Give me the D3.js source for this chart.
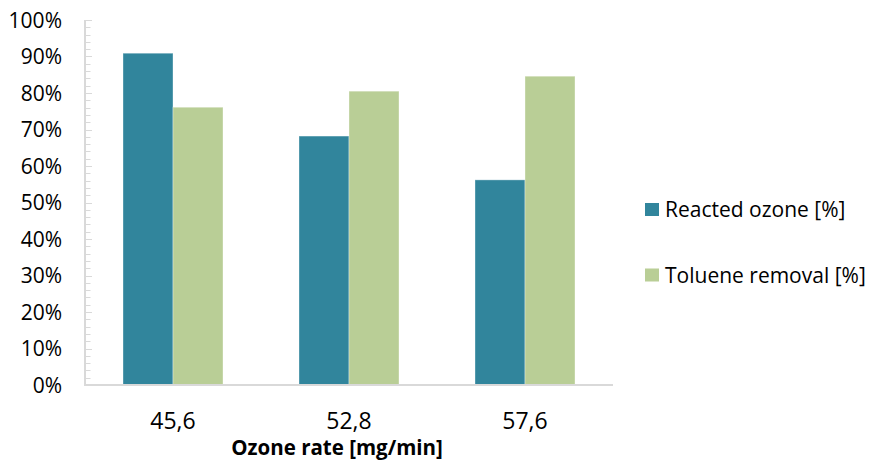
<!DOCTYPE html>
<html>
<head>
<meta charset="utf-8">
<script src="https://cdn.jsdelivr.net/npm/d3@7"></script>
<style>
html,body{margin:0;padding:0;background:#fff;}
svg{display:block;font-family:"Open Sans",sans-serif;}
</style>
</head>
<body>
<svg id="chart" width="869" height="461"></svg>
<script>
const categories = ["45,6", "52,8", "57,6"];
const seriesNames = ["Reacted ozone [%]", "Toluene removal [%]"];
const reactedOzone = [90.9, 68.2, 56.2];
const tolueneRemoval = [76.1, 80.5, 84.6];
const yTicks = [0, 10, 20, 30, 40, 50, 60, 70, 80, 90, 100];
const colors = ["#31859C", "#B9CE96"];
const xTitle = "Ozone rate [mg/min]";

(function () {
const svg = d3.select("#chart");
const pLeft = 85, pRight = 613, pTop = 20, pBottom = 385;

const x = d3.scaleBand().domain(categories).range([pLeft, pRight]).paddingInner(0).paddingOuter(0);
const sub = d3.scaleBand().domain(seriesNames).range([0, x.bandwidth()]).paddingInner(0).paddingOuter(0.76);
const y = d3.scaleLinear().domain([0, 100]).range([pBottom, pTop]);

const series = [reactedOzone, tolueneRemoval];

// bars
const groups = svg.append("g").selectAll("g").data(categories).join("g")
  .attr("transform", d => `translate(${x(d)},0)`);
groups.selectAll("rect")
  .data((c, i) => seriesNames.map((s, j) => ({s, j, v: series[j][i]})))
  .join("rect")
  .attr("x", d => sub(d.s))
  .attr("width", sub.bandwidth())
  .attr("y", d => y(d.v))
  .attr("height", d => y(0) - y(d.v))
  .attr("fill", d => colors[d.j])
  .attr("stroke", "#ffffff")
  .attr("stroke-opacity", 0.35)
  .attr("stroke-width", 1);

// y axis minor ticks (every 2%)
const minor = d3.range(0, 101, 2);
svg.append("g").selectAll("line").data(minor).join("line")
  .attr("x1", pLeft).attr("x2", d => d % 10 === 0 ? pLeft + 7 : pLeft + 5.5)
  .attr("y1", d => Math.round(y(d)) + 0.5).attr("y2", d => Math.round(y(d)) + 0.5)
  .attr("stroke", "#d9d9d9").attr("stroke-width", 1);

// axis lines
svg.append("line").attr("x1", pLeft).attr("x2", pLeft).attr("y1", pTop).attr("y2", pBottom + 1)
  .attr("stroke", "#d9d9d9").attr("stroke-width", 2);
svg.append("line").attr("x1", pLeft - 1).attr("x2", pRight).attr("y1", pBottom).attr("y2", pBottom)
  .attr("stroke", "#d9d9d9").attr("stroke-width", 2);

// y tick labels
svg.append("g").selectAll("text").data(yTicks).join("text")
  .attr("x", 62).attr("y", d => y(d) + 7.5)
  .attr("text-anchor", "end")
  .attr("font-size", 21).attr("fill", "#000")
  .text(d => d + "%");

// x tick labels
svg.append("g").selectAll("text").data(categories).join("text")
  .attr("x", d => x(d) + x.bandwidth() / 2).attr("y", 429)
  .attr("text-anchor", "middle")
  .attr("font-size", 23).attr("fill", "#000")
  .text(d => d);

// x title
svg.append("text").attr("x", 337).attr("y", 455)
  .attr("text-anchor", "middle").attr("font-size", 20.5).attr("font-weight", "bold")
  .attr("fill", "#000").text(xTitle);

// legend
const legendY = [209.5, 275];
const lg = svg.append("g").selectAll("g").data(seriesNames).join("g")
  .attr("transform", (d, i) => `translate(645,${legendY[i]})`);
lg.append("rect").attr("x", 0).attr("y", -6.5).attr("width", 14).attr("height", 13)
  .attr("fill", (d, i) => colors[i]);
lg.append("text").attr("x", 20).attr("y", 7.5).attr("font-size", 21).attr("fill", "#000")
  .text(d => d);
})();
</script>
</body>
</html>
